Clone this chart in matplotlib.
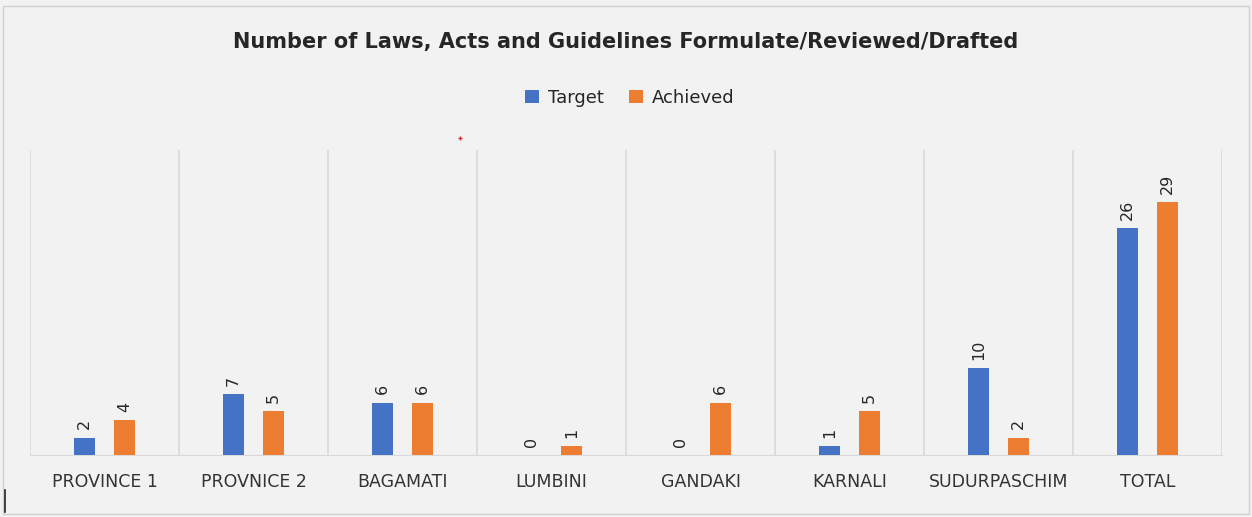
import matplotlib
matplotlib.use("Agg")
import matplotlib.pyplot as plt
import numpy as np
from matplotlib.patches import Rectangle
from matplotlib.lines import Line2D

categories = ["PROVINCE 1", "PROVNICE 2", "BAGAMATI", "LUMBINI", "GANDAKI",
              "KARNALI", "SUDURPASCHIM", "TOTAL"]
target = [2, 7, 6, 0, 0, 1, 10, 26]
achieved = [4, 5, 6, 1, 6, 5, 2, 29]
title = "Number of Laws, Acts and Guidelines Formulate/Reviewed/Drafted"

BLUE = "#4472c4"
ORANGE = "#ed7d31"
BG = "#f2f2f2"

fig = plt.figure(figsize=(12.52, 5.17), dpi=100, facecolor=BG)
ax = fig.add_axes([30/1252, 1-455/517, 1192/1252, 305/517])
ax.set_facecolor(BG)

x = np.arange(len(categories))
w = 0.145
off = 0.133
b1 = ax.bar(x - off, target, w, color=BLUE, label="Target", zorder=3)
b2 = ax.bar(x + off, achieved, w, color=ORANGE, label="Achieved", zorder=3)

for bars, vals in ((b1, target), (b2, achieved)):
    for r, v in zip(bars, vals):
        ax.annotate(str(v), (r.get_x() + r.get_width()/2, r.get_height()),
                    xytext=(0, 6), textcoords="offset points", rotation=90,
                    ha="center", va="bottom", fontsize=11.5, color="#262626")

ax.set_xlim(-0.5, len(categories) - 0.5)
ax.set_ylim(0, 35)
ax.set_yticks([])
ax.set_xticks(x)
ax.set_xticklabels(categories, fontsize=12.5, color="#333333")
ax.tick_params(axis="x", length=0, pad=13)
ax.set_xticks(np.arange(-0.5, len(categories)), minor=True)
ax.tick_params(axis="x", which="minor", length=0)
ax.grid(axis="x", which="minor", color="#d9d9d9", linewidth=1.2, zorder=0)
for s in ("top", "right", "left"):
    ax.spines[s].set_visible(False)
ax.spines["bottom"].set_color("#d9d9d9")

fig.text(0.5, 1-42/517, title, ha="center", va="center", fontsize=15,
         fontweight="bold", color="#262626")
fig.legend(loc="center", bbox_to_anchor=(0.503, 1-98/517), ncol=2, frameon=False,
           fontsize=13, handlelength=0.75, handleheight=0.75, columnspacing=1.4,
           handletextpad=0.5, labelcolor="#262626")

fig.add_artist(Rectangle((3/1252, 3/517), 1246/1252, 508/517, transform=fig.transFigure,
                         fill=False, edgecolor="#d0d0d0", linewidth=1))
fig.add_artist(Line2D([5/1252, 5/1252], [1-490/517, 1-512/517], transform=fig.transFigure,
                      color="#222222", linewidth=1.2))
fig.add_artist(Line2D([460/1252], [1-138/517], transform=fig.transFigure, marker="+",
                      color="#cc3333", markersize=3, linestyle="none"))

fig.savefig("out.png", dpi=100, facecolor=BG)
